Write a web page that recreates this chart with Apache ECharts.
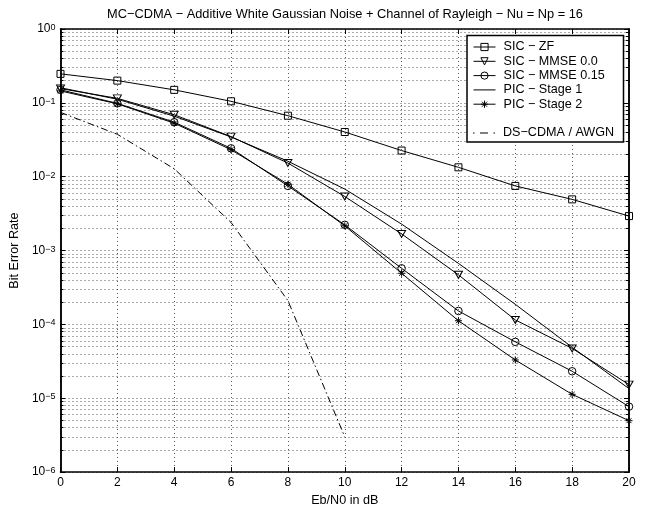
<!DOCTYPE html>
<html><head><meta charset="utf-8">
<script src="https://cdn.jsdelivr.net/npm/echarts@6/dist/echarts.min.js"></script>
<style>html,body{margin:0;padding:0;background:#fff}#c{width:646px;height:512px}</style>
</head><body><div id="c"></div>
<script>
// ---- data ----
const snrDb = [0, 2, 4, 6, 8, 10, 12, 14, 16, 18, 20];
const awgnSnrDb = [0, 2, 4, 6, 8, 10];
const sicZf      = [0.247, 0.200, 0.150, 0.105, 0.067, 0.0403, 0.0226, 0.0134, 0.0075, 0.00493, 0.00293];
const sicMmse00  = [0.156, 0.115, 0.069, 0.0349, 0.0153, 0.0054, 0.00168, 4.69e-4, 1.15e-4, 4.73e-5, 1.53e-5];
const sicMmse015 = [0.150, 0.0985, 0.0547, 0.0242, 0.0075, 0.00223, 5.75e-4, 1.52e-4, 5.8e-5, 2.32e-5, 7.7e-6];
const picStage1  = [0.160, 0.112, 0.066, 0.0345, 0.0162, 0.0068, 0.00228, 6.7e-4, 1.87e-4, 4.9e-5, 1.35e-5];
const picStage2  = [0.145, 0.097, 0.053, 0.0232, 0.0079, 0.00216, 4.93e-4, 1.12e-4, 3.3e-5, 1.13e-5, 4.97e-6];
const dsCdmaAwgn = [0.0743, 0.0375, 0.0128, 0.0024, 2.1e-4, 3.0e-6];
const seriesNames = ['SIC − ZF', 'SIC − MMSE 0.0', 'SIC − MMSE 0.15', 'PIC − Stage 1', 'PIC − Stage 2', 'DS−CDMA / AWGN'];
const yDecadeExponents = [-6, -5, -4, -3, -2, -1, 0];
const titleText = 'MC−CDMA − Additive White Gaussian Noise + Channel of Rayleigh − Nu = Np = 16';
const xName = 'Eb/N0 in dB';
const yName = 'Bit Error Rate';

// ---- tick lists ----
const yMajor = yDecadeExponents.map(e => Math.pow(10, e));
const yMinor = [];
yDecadeExponents.forEach(e => {
  if (e === 0) { yMinor.push(1); return; }
  for (let m = 1; m <= 9; m++) yMinor.push(parseFloat((m * Math.pow(10, e)).toPrecision(6)));
});

const FONT = 'Liberation Sans, Arial, Helvetica, sans-serif';
const pairs = (xs, ys) => ys.map((v, i) => [xs[i], v]);
const hollow = { color: 'rgba(255,255,255,0)', borderColor: '#000', borderWidth: 1 };
const asterisk = 'path://M5,0 L5,10 M0,5 L10,5 M1.5,1.5 L8.5,8.5 M8.5,1.5 L1.5,8.5';
const downTri = 'path://M0,0 L10,0 L5,9 Z';
const plainLineIcon = 'path://M0,0 L22,0 L22,1 L0,1 Z';
const dashDotIcon = 'path://M0,0 L1.5,0 L1.5,1 L0,1 Z M7,0 L15,0 L15,1 L7,1 Z M20.5,0 L22,0 L22,1 L20.5,1 Z';

function line(name, data, symbol, size, extra) {
  return Object.assign({
    name, type: 'line', data, xAxisIndex: 0, yAxisIndex: 0,
    symbol, symbolSize: size, showSymbol: symbol !== 'none',
    lineStyle: { color: '#000', width: 1 },
    itemStyle: hollow,
    emphasis: { disabled: true },
    z: 2
  }, extra || {});
}

const gridLine = { show: true, lineStyle: { color: '#555', width: 1, type: [1, 3] } };
const axisLineStyle = { show: true, onZero: false, lineStyle: { color: '#000', width: 1.5 } };
const tickStyle = { color: '#000', width: 1 };
const legendText = { fontSize: 12.6, color: '#000', fontFamily: FONT, lineHeight: 13, padding: [0, 0, 0, 3] };
const legendCommon = {
  orient: 'vertical', left: 473, itemWidth: 22, itemHeight: 9, itemGap: 1.3, padding: 0, z: 6,
  textStyle: legendText,
  itemStyle: { color: 'rgba(255,255,255,0)', borderColor: '#000', borderWidth: 1 },
  lineStyle: { color: '#000', width: 1 },
  selectedMode: false
};
const solidIconItem = { icon: plainLineIcon, itemStyle: { color: '#000', borderWidth: 0 } };

const option = {
  backgroundColor: '#fff',
  animation: false,
  title: {
    text: titleText, left: 345, top: 8, textAlign: 'center', padding: 0,
    textStyle: { fontSize: 12.8, fontWeight: 'normal', color: '#000', fontFamily: FONT }
  },
  grid: { left: 58, right: 17, top: 29, bottom: 31, containLabel: false },
  legend: [
    Object.assign({}, legendCommon, {
      top: 40.5,
      data: [
        seriesNames[0], seriesNames[1], seriesNames[2],
        Object.assign({ name: seriesNames[3] }, solidIconItem),
        seriesNames[4]
      ]
    }),
    Object.assign({}, legendCommon, {
      top: 126.5,
      data: [{ name: seriesNames[5], icon: dashDotIcon, itemStyle: { color: '#000', borderWidth: 0 } }]
    })
  ],
  graphic: [{
    type: 'rect', z: 5,
    shape: { x: 467, y: 35.5, width: 156.5, height: 106.5 },
    style: { fill: '#fff', stroke: '#000', lineWidth: 1.5 }
  }],
  xAxis: [
    {
      type: 'value', min: 0, max: 20, interval: 2, position: 'bottom',
      axisLine: axisLineStyle,
      axisTick: { show: true, inside: true, length: 5, lineStyle: tickStyle },
      axisLabel: { margin: 5, fontSize: 12, color: '#000', fontFamily: FONT, formatter: v => String(v) },
      splitLine: gridLine,
      name: xName, nameLocation: 'middle', nameGap: 19,
      nameTextStyle: { fontSize: 12.6, color: '#000', fontFamily: FONT }
    },
    {
      type: 'value', min: 0, max: 20, interval: 2, position: 'top',
      axisLine: axisLineStyle,
      axisTick: { show: true, inside: true, length: 5, lineStyle: tickStyle },
      axisLabel: { show: false }, splitLine: { show: false }
    }
  ],
  yAxis: [
    {
      type: 'log', logBase: 10, min: 1e-6, max: 1, position: 'left',
      axisLine: axisLineStyle,
      axisTick: { show: true, inside: true, length: 3, lineStyle: tickStyle, customValues: yMinor },
      minorTick: { show: false },
      axisLabel: {
        customValues: yMajor, margin: 5, color: '#000', fontFamily: FONT,
        formatter: v => {
          const e = Math.round(Math.log10(v));
          return '{b|10}{s|' + (e < 0 ? '−' + (-e) : String(e)) + '}';
        },
        rich: {
          b: { fontSize: 12, fontFamily: FONT, color: '#000', lineHeight: 12, padding: [6, 0, 6, 0], verticalAlign: 'middle' },
          s: { fontSize: 9, fontFamily: FONT, color: '#000', lineHeight: 12, verticalAlign: 'top' }
        }
      },
      splitLine: gridLine,
      name: yName, nameLocation: 'middle', nameGap: 32, nameRotate: 90,
      nameTextStyle: { fontSize: 12.6, color: '#000', fontFamily: FONT }
    },
    {
      type: 'log', logBase: 10, min: 1e-6, max: 1, position: 'left',
      axisLine: axisLineStyle,
      axisTick: { show: true, inside: true, length: 5, lineStyle: tickStyle, customValues: yMajor },
      axisLabel: { show: false }, splitLine: { show: false }
    },
    {
      type: 'log', logBase: 10, min: 1e-6, max: 1, position: 'right',
      axisLine: axisLineStyle,
      axisTick: { show: true, inside: true, length: 3, lineStyle: tickStyle, customValues: yMinor },
      axisLabel: { show: false }, splitLine: { show: false }
    },
    {
      type: 'log', logBase: 10, min: 1e-6, max: 1, position: 'right',
      axisLine: axisLineStyle,
      axisTick: { show: true, inside: true, length: 5, lineStyle: tickStyle, customValues: yMajor },
      axisLabel: { show: false }, splitLine: { show: false }
    }
  ],
  series: [
    line(seriesNames[0], pairs(snrDb, sicZf), 'rect', 7),
    line(seriesNames[1], pairs(snrDb, sicMmse00), downTri, [8, 7]),
    line(seriesNames[2], pairs(snrDb, sicMmse015), 'circle', 7.5),
    line(seriesNames[3], pairs(snrDb, picStage1), 'none', 0),
    line(seriesNames[4], pairs(snrDb, picStage2), asterisk, 7),
    line(seriesNames[5], pairs(awgnSnrDb, dsCdmaAwgn), 'none', 0, {
      lineStyle: { color: '#000', width: 1, type: [7, 3, 1.5, 3] }
    })
  ]
};

const chart = echarts.init(document.getElementById('c'), null, { renderer: 'canvas' });
chart.setOption(option);
</script>
</body></html>
